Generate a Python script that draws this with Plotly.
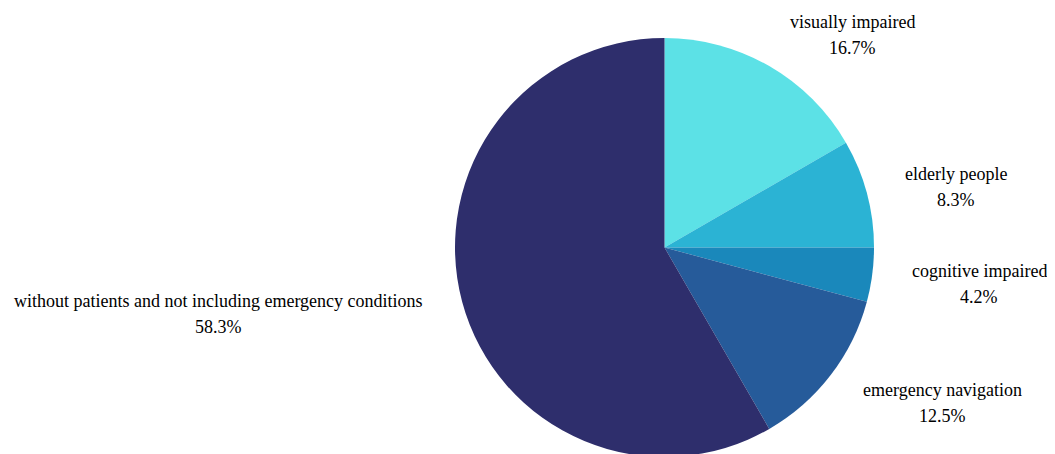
import plotly.graph_objects as go

categories = ["visually impaired", "elderly people", "cognitive impaired",
              "emergency navigation",
              "without patients and not including emergency conditions"]
values = [4, 2, 1, 3, 14]
colors = ["#5CE1E6", "#2BB3D4", "#1A88BB", "#265B9A", "#2E2E6C"]

W, H = 1055, 454
OFF = 8  # page body margin offset
cx, cy, r = 664.5 - OFF, 247.5 - OFF, 209.5

# label positions (pixel, from top-left of page) for name line; pct line sits below
label_pos = [(852, 22), (956, 174), (979, 271), (942, 390), (218, 301)]

y0 = (H - cy - r) / H
fig = go.Figure(go.Pie(
    labels=categories, values=values, sort=False, direction="clockwise",
    rotation=0, marker=dict(colors=colors, line=dict(width=0)),
    textinfo="none", hoverinfo="label+percent", showlegend=False,
    domain=dict(x=[(cx - r) / W, (cx + r) / W], y=[y0, y0 + 2 * r / H]),
))

total = sum(values)
font = dict(family="Liberation Serif, Times New Roman, serif", size=18, color="#000")
for name, v, (x, y) in zip(categories, values, label_pos):
    pct = f"{100 * v / total:.1f}%"
    fx, fy = x - OFF, y - OFF
    fig.add_annotation(x=fx / W, y=1 - fy / H, xref="paper", yref="paper",
                       text=name, showarrow=False, font=font,
                       xanchor="center", yanchor="middle")
    fig.add_annotation(x=fx / W, y=1 - (fy + 26) / H, xref="paper", yref="paper",
                       text=pct, showarrow=False, font=font,
                       xanchor="center", yanchor="middle")

fig.update_layout(width=W, height=H, margin=dict(l=0, r=0, t=0, b=0),
                  paper_bgcolor="white", plot_bgcolor="white")
fig.write_html("out.html")
